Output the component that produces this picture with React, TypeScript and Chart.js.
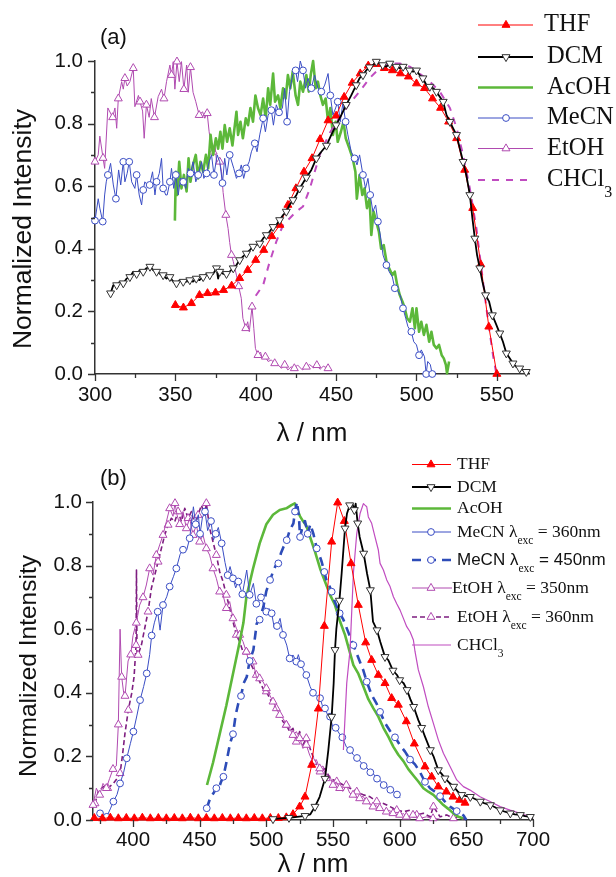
import React, { useEffect, useRef } from 'react';
import { Chart, registerables } from 'chart.js';

Chart.register(...registerables);

type Pt = [number, number];

// ================= Panel (a): absorption (wavelength nm, normalized intensity) =================
const thfA: Pt[] = [
  [350, 0.22], [355, 0.212], [360, 0.226], [365, 0.252], [370, 0.258], [375, 0.26], [380, 0.268],
  [385, 0.282], [390, 0.306], [395, 0.332], [400, 0.364], [405, 0.396], [410, 0.44], [415, 0.476],
  [420, 0.54], [425, 0.593], [430, 0.646], [435, 0.689], [440, 0.75], [445, 0.81], [450, 0.825],
  [455, 0.885], [460, 0.93], [465, 0.96], [470, 0.985], [475, 0.99], [480, 0.977], [485, 0.97],
  [490, 0.96], [495, 0.95], [500, 0.928], [505, 0.913], [510, 0.88], [515, 0.85], [520, 0.806],
  [525, 0.753], [530, 0.652], [535, 0.53], [540, 0.35], [545, 0.151], [550, 0.0],
];

const dcmA: Pt[] = [
  [309.7, 0.258], [311.4, 0.284], [313.5, 0.284], [315.5, 0.295], [317.6, 0.29], [319.7, 0.305],
  [321.7, 0.31], [323.8, 0.327], [325.9, 0.32], [328, 0.332], [330, 0.327], [332, 0.338], [334.2, 0.343],
  [336.2, 0.332], [338.3, 0.327], [340.4, 0.32], [342.4, 0.316], [344.5, 0.305], [346.6, 0.31],
  [348.7, 0.295], [350.7, 0.29], [352.8, 0.3], [354.9, 0.295], [357, 0.295], [359, 0.3], [361, 0.295],
  [363, 0.305], [365, 0.3], [367.3, 0.31], [369.4, 0.32], [371.4, 0.316], [373.5, 0.32], [375.6, 0.338],
  [376.6, 0.305], [377.6, 0.327], [379.7, 0.32], [381.8, 0.32], [383.8, 0.327], [386, 0.338], [388, 0.348],
  [390, 0.364], [392, 0.375], [394.2, 0.385], [396.3, 0.396], [398.3, 0.407], [400.4, 0.412], [402.5, 0.417],
  [404.6, 0.433], [406.6, 0.444], [408.7, 0.455], [410.8, 0.47], [412.8, 0.476], [414.9, 0.492], [417, 0.508],
  [419, 0.519], [421, 0.54], [423.2, 0.556], [425.3, 0.572], [427.3, 0.593], [429.4, 0.61], [431.5, 0.628],
  [434.6, 0.652], [437.7, 0.689], [440.8, 0.71], [444, 0.73], [447, 0.764], [450, 0.795], [453.2, 0.827],
  [456.3, 0.86], [459.4, 0.89], [462.5, 0.923], [464.6, 0.945], [466.7, 0.955], [468.7, 0.97], [470.8, 0.98],
  [472.9, 0.987], [475, 0.998], [477, 0.992], [479, 0.987], [481.3, 0.982], [483.4, 0.992], [485.5, 0.987],
  [487.5, 0.982], [489.6, 0.977], [491.7, 0.982], [493.7, 0.977], [495.8, 0.97], [497.9, 0.966], [500, 0.97],
  [502, 0.955], [504, 0.945], [506.2, 0.923], [508.3, 0.918], [510.4, 0.913], [512.4, 0.902], [514.5, 0.886],
  [516.6, 0.87], [518.7, 0.827], [520.8, 0.806], [522.8, 0.785], [524.9, 0.764], [527, 0.72], [529, 0.678],
  [531, 0.636], [533.2, 0.572], [534.8, 0.497], [536.3, 0.433], [537.7, 0.38], [539.4, 0.338], [541, 0.295],
  [543, 0.252], [545.2, 0.231], [547.2, 0.188], [549.7, 0.157], [551.8, 0.13], [553.8, 0.103], [555.9, 0.066],
  [558, 0.05], [560, 0.034], [562, 0.023], [564.2, 0.018], [566.2, 0.013], [568.3, 0.007], [570, 0.002],
];

const acohA: Pt[] = [
  [349.7, 0.49], [350.3, 0.646], [351.1, 0.572], [352.4, 0.678], [353.8, 0.593], [355.3, 0.636], [357, 0.583],
  [358.2, 0.689], [359.4, 0.614], [361, 0.668], [362.7, 0.7], [364.2, 0.625], [365.6, 0.678], [367.3, 0.646],
  [369, 0.7], [370.4, 0.657], [371.9, 0.764], [373.5, 0.7], [375.2, 0.753], [376.6, 0.72], [378, 0.774],
  [379.3, 0.72], [380.7, 0.795], [382.2, 0.742], [383.8, 0.785], [385.5, 0.73], [387, 0.795], [388, 0.838],
  [389, 0.764], [390.5, 0.806], [392, 0.753], [393.8, 0.817], [395.2, 0.795], [396.7, 0.85], [398.3, 0.806],
  [399.8, 0.89], [401.4, 0.85], [403, 0.827], [404.6, 0.88], [406.2, 0.817], [407.7, 0.913], [409, 0.86],
  [410.8, 0.96], [412, 0.87], [413.9, 0.89], [415.3, 0.85], [417, 0.913], [418.6, 0.88], [420, 0.955],
  [421.5, 0.913], [423, 0.966], [424.8, 0.89], [426.3, 0.86], [427.7, 0.934], [429.4, 0.902], [431.5, 0.955],
  [433, 0.902], [434.2, 0.955], [435.7, 1.0], [437.3, 0.913], [438.7, 0.934], [440.2, 0.89], [441.8, 0.86],
  [443.5, 0.88], [445, 0.806], [446.4, 0.85], [448, 0.764], [449.7, 0.806], [451, 0.742], [453, 0.774],
  [454.6, 0.806], [456, 0.753], [458.3, 0.72], [460.3, 0.689], [462, 0.646], [462.9, 0.56], [464.6, 0.636],
  [466.3, 0.572], [467.7, 0.593], [469.2, 0.53], [470.8, 0.56], [471.9, 0.444], [473.3, 0.519], [475, 0.487],
  [476.6, 0.455], [478, 0.4], [479.6, 0.412], [481.3, 0.36], [483, 0.338], [485, 0.316], [486.5, 0.327],
  [488, 0.284], [489.6, 0.252], [491.3, 0.231], [492.7, 0.21], [494.2, 0.178], [495.9, 0.167], [497.5, 0.21],
  [499, 0.146], [500, 0.21], [501.6, 0.135], [503, 0.167], [504.6, 0.125], [506.2, 0.157], [507.9, 0.103],
  [509.3, 0.135], [510.8, 0.093], [512.5, 0.082], [514, 0.093], [515.7, 0.06], [517, 0.05], [518.3, 0.029],
  [519, 0.002], [520.3, 0.04],
];

const mecnA: Pt[] = [
  [300, 0.49], [302, 0.56], [303, 0.53], [304.8, 0.487], [306, 0.572], [307, 0.614], [308, 0.636], [309.7, 0.673],
  [311.4, 0.604], [313, 0.56], [314.7, 0.652], [316, 0.604], [317.6, 0.678], [318.6, 0.614], [320, 0.641],
  [321.3, 0.678], [322.8, 0.614], [324.8, 0.593], [325.9, 0.636], [327.5, 0.572], [329, 0.54], [330, 0.588],
  [331, 0.614], [332.5, 0.604], [334, 0.604], [335.8, 0.646], [337.3, 0.572], [338.3, 0.614], [340, 0.641],
  [341.4, 0.689], [342.4, 0.593], [344, 0.572], [344.9, 0.572], [346.6, 0.614], [347.6, 0.657], [349, 0.593],
  [350.3, 0.636], [351.8, 0.572], [353.2, 0.625], [354.9, 0.614], [356.5, 0.593], [358, 0.657], [359.4, 0.641],
  [361, 0.678], [362.7, 0.614], [364.2, 0.636], [366.3, 0.678], [367.7, 0.625], [369.4, 0.641], [371, 0.678],
  [372.5, 0.7], [374, 0.636], [376, 0.7], [377.6, 0.678], [379.3, 0.61], [380.7, 0.689], [382, 0.636],
  [383.8, 0.7], [386.3, 0.657], [388, 0.625], [389.6, 0.641], [391, 0.668], [392.5, 0.625], [394, 0.657],
  [395.9, 0.678], [397.3, 0.71], [399.4, 0.737], [400.8, 0.71], [402.5, 0.764], [404.6, 0.817], [406, 0.774],
  [407.7, 0.827], [409.7, 0.843], [411, 0.795], [412.8, 0.86], [414.5, 0.836], [416.6, 0.85], [418, 0.913],
  [419.5, 0.806], [421, 0.902], [423, 0.955], [424.8, 0.97], [426, 0.934], [427.7, 1.0], [429.4, 0.97],
  [431, 0.913], [432.5, 0.945], [434.6, 0.913], [436.6, 0.955], [438.7, 0.913], [440.8, 0.902], [442.9, 0.923],
  [445, 0.96], [446.4, 0.89], [448, 0.827], [449.7, 0.85], [451, 0.87], [452.6, 0.806], [454.2, 0.865],
  [455.9, 0.806], [457.3, 0.764], [459.4, 0.71], [461.5, 0.689], [463, 0.668], [464.6, 0.7], [466.7, 0.636],
  [468.3, 0.593], [469.8, 0.625], [471.2, 0.572], [472.9, 0.519], [474.6, 0.54], [476, 0.487], [477.5, 0.444],
  [479.2, 0.38], [481.3, 0.348], [483, 0.327], [485, 0.31], [486.5, 0.274], [488.6, 0.263], [490, 0.25],
  [491.6, 0.21], [493.3, 0.178], [494.7, 0.151], [496.8, 0.135], [498.3, 0.103], [500, 0.093], [501.6, 0.06],
  [503, 0.077], [505, 0.055], [506, 0.0], [507, 0.04], [508.6, 0.03], [509.8, 0.0],
];

const etohA: Pt[] = [
  [300, 0.678], [302, 0.7], [303, 0.76], [305, 0.69], [306, 0.657], [308, 0.85], [311, 0.82], [312.4, 0.85],
  [313.5, 0.785], [314.5, 0.88], [316.6, 0.934], [317.6, 0.91], [318.6, 0.945], [320, 0.92], [321.7, 0.934],
  [323.8, 0.977], [324.8, 0.854], [327, 0.89], [328, 0.87], [329.6, 0.84], [330.6, 0.753], [332, 0.86],
  [333.7, 0.82], [335, 0.88], [337, 0.82], [339.3, 0.886], [341.4, 0.91], [342.9, 0.88], [344.5, 0.934],
  [346.6, 0.987], [347.6, 0.955], [348.7, 0.998], [349.7, 0.91], [351, 0.998], [352.4, 0.934], [353.8, 0.998],
  [355.3, 0.91], [357, 0.987], [358, 0.9], [359.4, 0.98], [361, 0.9], [362.7, 0.87], [364.8, 0.827],
  [366.9, 0.838], [368.3, 0.817], [369.8, 0.833], [371, 0.774], [372.5, 0.72], [373.5, 0.71], [374.5, 0.742],
  [375.6, 0.678], [377.6, 0.678], [378.7, 0.646], [379.7, 0.58], [381.4, 0.508], [382.8, 0.465], [383.8, 0.42],
  [384.9, 0.38], [386, 0.36], [388, 0.316], [389.4, 0.28], [391, 0.242], [392, 0.178], [393.8, 0.146],
  [395, 0.167], [396, 0.135], [397.7, 0.215], [398.8, 0.146], [399.8, 0.082], [401.4, 0.06], [403, 0.07],
  [404, 0.05], [406, 0.055], [407.7, 0.04], [409.7, 0.045], [411.8, 0.034], [413.9, 0.029], [416, 0.018],
  [418, 0.029], [420, 0.013], [422, 0.023], [424, 0.018], [426, 0.029], [429, 0.013], [431.5, 0.023],
  [433.5, 0.03], [436, 0.02], [438, 0.028], [440, 0.015], [442, 0.025], [445, 0.018],
];

const chcl3A: Pt[] = [
  [400, 0.25], [404.6, 0.284], [408.7, 0.359], [412.8, 0.423], [417, 0.476], [421, 0.497], [425.3, 0.519],
  [429.4, 0.535], [433.5, 0.59], [439.8, 0.7], [446, 0.77], [452.2, 0.82], [458.5, 0.865], [464.6, 0.902],
  [470.8, 0.945], [477, 0.977], [483.4, 0.992], [489.6, 0.992], [495.8, 0.982], [502, 0.96], [508.3, 0.934],
  [514.5, 0.902], [520.8, 0.85], [525, 0.785], [529, 0.7], [533.2, 0.593], [537.3, 0.465], [541.4, 0.295],
  [544.6, 0.167], [547.6, 0.06], [549.7, 0.0],
];

// ================= Panel (b): emission =================
const thfB: Pt[] = [
  [371, 0.006], [377, 0.005], [383, 0.007], [389, 0.005], [395, 0.006], [401, 0.005], [407, 0.007], [413, 0.005],
  [419, 0.006], [425, 0.005], [431, 0.006], [437, 0.005], [443, 0.007], [449, 0.005], [455, 0.006], [461, 0.005],
  [467, 0.006], [473, 0.005], [479, 0.006], [485, 0.005], [491, 0.006], [497, 0.005], [503, 0.006], [509, 0.006],
  [515, 0.008], [520, 0.018], [525, 0.042], [529, 0.073], [534, 0.173], [539, 0.35], [543.5, 0.61], [549, 0.875],
  [553.5, 0.998], [558.5, 0.94], [563.5, 0.807], [569, 0.676], [574.5, 0.558], [579, 0.503], [584, 0.456],
  [589, 0.43], [594, 0.383], [599, 0.362], [605, 0.31], [611, 0.24], [619, 0.168], [624, 0.136], [629, 0.105],
  [635, 0.089], [640, 0.073], [645, 0.063], [649, 0.054],
];

const dcmB: Pt[] = [
  [505, 0.003], [511, 0.005], [517, 0.007], [523, 0.01], [529, 0.013], [533, 0.018], [536.5, 0.042],
  [540, 0.073], [544, 0.13], [546.5, 0.22], [549, 0.325], [550.5, 0.43], [551.5, 0.535], [552.5, 0.6],
  [554.8, 0.69], [556.5, 0.776], [559, 0.917], [560.5, 0.964], [562.5, 0.99], [564.5, 0.995], [566, 0.975],
  [567, 0.995], [568.5, 0.933], [570, 0.89], [573, 0.838], [575.5, 0.776], [578, 0.723], [580, 0.624],
  [583, 0.597], [585.5, 0.56], [589, 0.513], [591.5, 0.503], [595, 0.47], [598, 0.456], [600, 0.44],
  [603, 0.43], [605.5, 0.409], [608, 0.38], [610.5, 0.356], [614, 0.314], [616.5, 0.29], [619, 0.262],
  [623, 0.22], [625.5, 0.199], [629, 0.157], [631.5, 0.145], [634, 0.131], [637, 0.118], [640.5, 0.105],
  [643.5, 0.09], [646.5, 0.079], [650, 0.075], [653, 0.073], [656.5, 0.066], [660.5, 0.058], [664, 0.052],
  [668, 0.047], [671.5, 0.04], [675.5, 0.031], [679, 0.026], [683, 0.021], [686.5, 0.018], [690.5, 0.016],
  [694, 0.012], [698, 0.01], [700, 0.005],
];

const acohB: Pt[] = [
  [455.5, 0.11], [460, 0.18], [465, 0.27], [470, 0.36], [475, 0.46], [480, 0.56], [482.8, 0.62], [485, 0.7],
  [490, 0.79], [495, 0.87], [500, 0.93], [505, 0.96], [510, 0.975], [515, 0.98], [518.8, 0.99], [521.3, 0.996],
  [523.3, 0.975], [525.3, 0.955], [527.5, 0.94], [530, 0.925], [532.8, 0.89], [536.5, 0.844], [540.3, 0.791],
  [544, 0.75], [547.8, 0.708], [551.5, 0.676], [555.3, 0.624], [559, 0.582], [562.8, 0.525], [565.3, 0.487],
  [569, 0.46], [572.8, 0.42], [576.5, 0.38], [580.3, 0.351], [584, 0.325], [587.8, 0.29], [591.5, 0.262],
  [595.3, 0.23], [599, 0.205], [602.8, 0.185], [606.5, 0.16], [610.3, 0.14], [614, 0.121], [617.8, 0.1],
  [621.5, 0.089], [625.3, 0.079], [629, 0.063], [632.8, 0.047], [636.5, 0.035], [640.3, 0.021], [644, 0.01],
  [647.8, 0.005],
];

const mecn360B: Pt[] = [
  [375.3, 0.021], [378, 0.015], [380.3, 0.01], [383, 0.035], [385.3, 0.058], [388, 0.08], [390.3, 0.115],
  [393, 0.15], [395.3, 0.194], [398, 0.24], [400.3, 0.278], [403, 0.33], [405.3, 0.377], [408, 0.42],
  [410.3, 0.461], [412.5, 0.52], [414, 0.58], [416, 0.62], [418.5, 0.655], [420.3, 0.597], [422.5, 0.676],
  [425.3, 0.702], [427.5, 0.734], [430.3, 0.765], [432.5, 0.791], [435.3, 0.835], [437.5, 0.85], [440.3, 0.849],
  [442.5, 0.886], [445.3, 0.985], [447, 0.93], [449, 0.96], [450.3, 0.9], [452, 0.95], [454, 0.97], [456, 0.91],
  [458.5, 0.94], [460.3, 0.88], [462, 0.9], [464, 0.92], [466.5, 0.87], [469, 0.81], [471, 0.77], [472.8, 0.797],
  [475, 0.76], [477, 0.73], [479, 0.75], [480.3, 0.733], [482, 0.71], [485.3, 0.786], [487.5, 0.708],
  [490.3, 0.744], [492.5, 0.68], [494, 0.692], [496, 0.7], [497.8, 0.681], [500, 0.655], [502, 0.665],
  [504, 0.65], [506, 0.603], [508, 0.61], [510.3, 0.634], [512.5, 0.582], [515.3, 0.55], [517.5, 0.508],
  [520, 0.519], [522.5, 0.498], [524, 0.52], [526, 0.49], [528, 0.47], [530, 0.456], [532.8, 0.42], [535, 0.4],
  [537.8, 0.39], [540.3, 0.383], [542, 0.36], [544, 0.351], [546, 0.33], [547.8, 0.325], [550, 0.29],
  [552, 0.29], [555, 0.27], [557, 0.26], [560, 0.23], [562.8, 0.22], [565.3, 0.205], [568, 0.195],
  [570.3, 0.185], [573, 0.17], [575.3, 0.165], [578, 0.15], [580.3, 0.145], [583, 0.13], [585.3, 0.125],
  [588, 0.11], [590.3, 0.105], [593, 0.095], [595.3, 0.09], [598, 0.08], [600.3, 0.07],
];

const mecn450B: Pt[] = [
  [455.3, 0.037], [458, 0.07], [460.3, 0.084], [462.5, 0.1], [464, 0.095], [466, 0.12], [467.8, 0.136],
  [470, 0.18], [472.8, 0.241], [475, 0.27], [477, 0.33], [479, 0.367], [481, 0.39], [483, 0.43], [485.3, 0.45],
  [487.5, 0.5], [490.3, 0.535], [492.8, 0.618], [495, 0.63], [497.8, 0.671], [500, 0.72], [502.8, 0.755],
  [505, 0.78], [507, 0.8], [509, 0.807], [511, 0.84], [513, 0.86], [515.3, 0.88], [517.5, 0.91], [520.3, 0.933],
  [521.5, 0.97], [523, 1.0], [524.5, 0.95], [525.3, 0.89], [527, 0.92], [529, 0.94], [531, 0.9], [533, 0.93],
  [535.3, 0.9], [537.8, 0.854], [540, 0.83], [541.5, 0.812], [543.5, 0.78], [545.3, 0.75], [547, 0.74],
  [549, 0.718], [551, 0.69], [553, 0.67], [555, 0.65], [557.8, 0.63], [561.5, 0.59], [565.3, 0.55], [569, 0.51],
  [572.8, 0.47], [575.3, 0.435], [579, 0.393], [582.8, 0.365], [585.3, 0.34], [589, 0.305], [592.8, 0.28],
  [596.5, 0.26], [600.3, 0.235], [604, 0.215], [607.8, 0.19], [611.5, 0.175], [615.3, 0.15], [619, 0.12],
  [622.8, 0.1], [626.5, 0.089], [630.3, 0.075], [634, 0.058], [637.8, 0.042], [642.8, 0.028], [647.8, 0.015],
  [650, 0.0],
];

const etoh350B: Pt[] = [
  [370, 0.047], [372.5, 0.1], [375, 0.079], [377.5, 0.115], [380, 0.1], [382.5, 0.131], [385, 0.16],
  [387.5, 0.17], [389, 0.3], [390.3, 0.6], [391.5, 0.45], [393, 0.4], [394, 0.39], [396.3, 0.5], [398.3, 0.52],
  [400, 0.58], [402.5, 0.62], [405, 0.676], [407.5, 0.7], [410, 0.739], [412.5, 0.791], [415, 0.77],
  [417.5, 0.833], [420, 0.865], [422.5, 0.896], [425, 0.938], [427.5, 0.98], [430, 0.955], [431.5, 0.996],
  [433, 0.96], [435, 0.93], [437.5, 0.97], [440, 0.917], [442.5, 0.949], [445, 0.896], [447.5, 0.928],
  [450, 0.875], [452.5, 0.896], [455, 0.854], [457.5, 0.833], [460, 0.791], [462.5, 0.76], [465, 0.718],
  [467.5, 0.708], [470, 0.666], [472.5, 0.687], [475, 0.634], [477.5, 0.603], [480, 0.582], [482.5, 0.561],
  [485, 0.529], [487.5, 0.487], [490, 0.498], [492.5, 0.451], [495, 0.445], [497.5, 0.435], [500, 0.414],
  [502.5, 0.393], [505, 0.372], [507.5, 0.351], [510, 0.33], [512.5, 0.32], [515, 0.299], [517.5, 0.288],
  [520, 0.267], [522.5, 0.278], [525, 0.257], [527.5, 0.225], [530, 0.236], [532.5, 0.204], [535, 0.183],
  [537.5, 0.19], [540, 0.162], [542.5, 0.17], [545, 0.131], [547.5, 0.14], [550, 0.11], [552.5, 0.12],
  [555, 0.1], [557.5, 0.09], [560, 0.11], [562.5, 0.085], [565, 0.079], [567.5, 0.07], [570, 0.068],
  [572.5, 0.075], [575, 0.058], [577.5, 0.05], [580, 0.042], [582.5, 0.045], [585, 0.037], [587.5, 0.03],
  [590, 0.026], [592.5, 0.03], [595, 0.021], [597.5, 0.018], [600, 0.016], [603, 0.02], [605, 0.01],
  [608, 0.012], [610, 0.016], [613, 0.008], [615, 0.005], [620, 0.01], [625, 0.005], [630, 0.003],
];

const etoh360B: Pt[] = [
  [371.5, 0.052], [374, 0.09], [377.8, 0.105], [381, 0.1], [385.3, 0.115], [388, 0.13], [390.3, 0.147],
  [392, 0.2], [394, 0.273], [396.5, 0.346], [399, 0.398], [400.8, 0.45], [402.3, 0.55], [402.6, 0.786],
  [403, 0.52], [403.8, 0.519], [406.3, 0.55], [408.8, 0.603], [411.3, 0.655], [413.8, 0.729], [416.3, 0.77],
  [418.8, 0.812], [421.3, 0.854], [423.8, 0.896], [426.3, 0.928], [428.8, 0.949], [431.3, 0.938],
  [433.8, 0.97], [436.3, 0.938], [438.8, 0.98], [441.3, 0.949], [443.8, 0.97], [446.3, 0.928], [448.8, 0.959],
  [451.3, 0.99], [453.8, 0.959], [455, 0.996], [457.5, 0.917], [460, 0.875], [462.5, 0.833], [465, 0.781],
  [467.5, 0.75], [470, 0.708], [472.5, 0.666], [475, 0.624], [477.5, 0.582], [480, 0.561], [482.5, 0.529],
  [485, 0.529], [487.5, 0.498], [490, 0.477], [492.5, 0.456], [495, 0.435], [497.5, 0.414], [500, 0.404],
  [502.5, 0.383], [505, 0.362], [507.5, 0.351], [510, 0.33], [512.5, 0.309], [515, 0.299], [517.5, 0.278],
  [520, 0.288], [522.5, 0.246], [525, 0.278], [527.5, 0.236], [530, 0.257], [532.8, 0.225], [536.5, 0.183],
  [540.3, 0.152], [544, 0.162], [547.8, 0.131], [552.8, 0.121], [557.8, 0.11], [562.8, 0.1], [567.8, 0.089],
  [572.8, 0.079], [577.8, 0.073], [582.8, 0.058], [587.8, 0.052], [592.8, 0.042], [597.8, 0.031],
  [602.8, 0.026], [607.8, 0.031], [612.8, 0.016], [617.8, 0.021], [622.8, 0.01], [625.3, 0.042], [630.3, 0.01],
  [635.3, 0.016], [640.3, 0.005], [645.3, 0.01], [649, 0.0],
];

const chcl3B: Pt[] = [
  [557.8, 0.22], [560.3, 0.43], [562.8, 0.535], [565.3, 0.776], [567.8, 0.9], [570.3, 0.964], [572.8, 0.995],
  [574, 0.99], [575.3, 0.985], [576.5, 0.953], [579, 0.933], [581.5, 0.89], [584, 0.849], [585.3, 0.807],
  [587.8, 0.786], [590.3, 0.755], [592.8, 0.734], [595.3, 0.702], [597.8, 0.68], [600.3, 0.66], [602.8, 0.634],
  [605.3, 0.608], [607.8, 0.592], [610.3, 0.566], [611.5, 0.53], [614, 0.472], [617.8, 0.419], [621.5, 0.356],
  [625.3, 0.304], [629, 0.252], [632.8, 0.21], [637.8, 0.168], [642.8, 0.126], [647.8, 0.105], [652.8, 0.094],
  [660.3, 0.073], [667.8, 0.058], [675.3, 0.042], [682.8, 0.031], [690.3, 0.021], [697.8, 0.01], [700, 0.005],
];

// ================= Axis ticks =================
const xMajorA = [300, 350, 400, 450, 500, 550];
const xMinorA = [325, 375, 425, 475, 525];
const xMajorB = [400, 450, 500, 550, 600, 650, 700];
const xMinorB = [375, 425, 475, 525, 575, 625, 675];
const yMajor = [0, 0.2, 0.4, 0.6, 0.8, 1.0];
const yMinor = [0.1, 0.3, 0.5, 0.7, 0.9];

const SANS = '"Liberation Sans", Arial, sans-serif';
const SERIF = '"Liberation Serif", "Times New Roman", serif';

const COL = {
  thf: '#FF0000',
  dcm: '#000000',
  acoh: '#5CB83A',
  mecn: '#3A4DC4',
  mecn450: '#2D4CB8',
  etoh: '#B04AB0',
  etoh360: '#7E1E80',
  chcl3: '#C04CC0',
};

type Marker = 'circle' | 'triangle' | 'triangleDown' | null;

interface SeriesStyle {
  color: string;
  width: number;
  dash?: number[];
  marker?: Marker;
  every?: number;
  r?: number;
  fill?: string;
  mstroke?: string;
}

function lineDs(label: string, pts: Pt[], s: SeriesStyle) {
  const every = s.every || 1;
  const r = s.r || 4;
  return {
    label,
    data: pts.map(([x, y]) => ({ x, y })),
    borderColor: s.color,
    borderWidth: s.width,
    borderDash: s.dash || [],
    borderJoinStyle: 'round' as const,
    fill: false,
    tension: 0,
    clip: false as const,
    pointStyle: s.marker === 'circle' ? 'circle' : 'triangle',
    pointRotation: s.marker === 'triangleDown' ? 180 : 0,
    pointRadius: (c: any) => (s.marker && c.index % every === 0 ? r : 0),
    pointHoverRadius: 0,
    pointBorderWidth: 1,
    pointBorderColor: s.mstroke || s.color,
    pointBackgroundColor: s.fill || '#FFFFFF',
  };
}

function drawMarker(ctx: CanvasRenderingContext2D, m: Marker, x: number, y: number, r: number, stroke: string, fill: string) {
  if (!m) return;
  ctx.save();
  ctx.setLineDash([]);
  ctx.lineWidth = 1;
  ctx.strokeStyle = stroke;
  ctx.fillStyle = fill;
  ctx.beginPath();
  if (m === 'circle') {
    ctx.arc(x, y, r, 0, Math.PI * 2);
  } else {
    const rot = m === 'triangleDown' ? Math.PI : 0;
    for (let i = 0; i < 3; i++) {
      const a = rot + (i * 2 * Math.PI) / 3;
      const px = x + Math.sin(a) * r;
      const py = y - Math.cos(a) * r;
      if (i === 0) ctx.moveTo(px, py);
      else ctx.lineTo(px, py);
    }
    ctx.closePath();
  }
  ctx.fill();
  ctx.stroke();
  ctx.restore();
}

interface Part { t: string; sub?: boolean }

interface LegendItem {
  parts: Part[];
  y: number;
  style: SeriesStyle;
  font?: string;
  tx?: number;
  x1?: number;
}

interface Decor {
  panel: { text: string; x: number; y: number; font: string };
  xTitle: { text: string; x: number; y: number; font: string };
  yTitle: { text: string; x: number; y: number; font: string };
  xMajor: number[];
  xMinor: number[];
  legend: {
    items: LegendItem[];
    x0: number;
    x1: number;
    mx: number;
    tx: number;
    font: string;
    subFont: string;
    subDy: number;
  };
}

function makeDecor(d: Decor) {
  return {
    id: 'decor',
    afterDraw(chart: any) {
      const ctx: CanvasRenderingContext2D = chart.ctx;
      const xs = chart.scales.x;
      const ys = chart.scales.y;
      const { left, bottom } = chart.chartArea;
      ctx.save();
      // tick marks
      ctx.strokeStyle = '#333';
      ctx.lineWidth = 1.3;
      ctx.beginPath();
      d.xMajor.forEach((v) => {
        const p = Math.round(xs.getPixelForValue(v)) + 0.5;
        ctx.moveTo(p, bottom); ctx.lineTo(p, bottom + 7);
      });
      d.xMinor.forEach((v) => {
        const p = Math.round(xs.getPixelForValue(v)) + 0.5;
        ctx.moveTo(p, bottom); ctx.lineTo(p, bottom + 4);
      });
      yMajor.forEach((v) => {
        const p = Math.round(ys.getPixelForValue(v)) + 0.5;
        ctx.moveTo(left, p); ctx.lineTo(left - 7, p);
      });
      yMinor.forEach((v) => {
        const p = Math.round(ys.getPixelForValue(v)) + 0.5;
        ctx.moveTo(left, p); ctx.lineTo(left - 4, p);
      });
      ctx.stroke();

      // texts
      ctx.fillStyle = '#111';
      ctx.textBaseline = 'middle';
      ctx.textAlign = 'left';
      ctx.font = d.panel.font;
      ctx.fillText(d.panel.text, d.panel.x, d.panel.y);
      ctx.textAlign = 'center';
      ctx.font = d.xTitle.font;
      ctx.fillText(d.xTitle.text, d.xTitle.x, d.xTitle.y);
      ctx.save();
      ctx.translate(d.yTitle.x, d.yTitle.y);
      ctx.rotate(-Math.PI / 2);
      ctx.font = d.yTitle.font;
      ctx.fillText(d.yTitle.text, 0, 0);
      ctx.restore();

      // legend
      const L = d.legend;
      L.items.forEach((it) => {
        const s = it.style;
        ctx.save();
        ctx.strokeStyle = s.color;
        ctx.lineWidth = s.width;
        ctx.setLineDash(s.dash || []);
        ctx.beginPath();
        ctx.moveTo(L.x0, it.y);
        ctx.lineTo(it.x1 || L.x1, it.y);
        ctx.stroke();
        ctx.restore();
        drawMarker(ctx, s.marker || null, L.mx, it.y, s.r || 4, s.mstroke || s.color, s.fill || '#FFFFFF');
        let cx = it.tx || L.tx;
        ctx.textAlign = 'left';
        ctx.fillStyle = '#111';
        it.parts.forEach((p) => {
          ctx.font = p.sub ? L.subFont : (it.font || L.font);
          ctx.fillText(p.t, cx, p.sub ? it.y + L.subDy : it.y);
          cx += ctx.measureText(p.t).width;
        });
      });
      ctx.restore();
    },
  };
}

// styles
const sTHF: SeriesStyle = { color: COL.thf, width: 1, marker: 'triangle', r: 4.6, fill: COL.thf };
const sDCM: SeriesStyle = { color: COL.dcm, width: 1.8, marker: 'triangleDown', r: 4.6, fill: '#FFFFFF', mstroke: '#333' };
const sAcOH: SeriesStyle = { color: COL.acoh, width: 2.6 };
const sMeCN: SeriesStyle = { color: COL.mecn, width: 1, marker: 'circle', r: 3.4 };
const sEtOH: SeriesStyle = { color: COL.etoh, width: 1, marker: 'triangle', r: 4.6 };
const sCHCl3A: SeriesStyle = { color: COL.chcl3, width: 2, dash: [7, 7] };
const sMeCN450: SeriesStyle = { color: COL.mecn450, width: 2.6, dash: [9, 6], marker: 'circle', r: 3.4, mstroke: COL.mecn };
const sEtOH360: SeriesStyle = { color: COL.etoh360, width: 1.6, dash: [5, 3], marker: 'triangle', r: 4.6, mstroke: COL.etoh };
const sCHCl3B: SeriesStyle = { color: COL.chcl3, width: 1.2 };

function scales(xmin: number, xmax: number, xH: number, yW: number, xPad: number, yPad: number) {
  const tickFont = { family: SANS, size: 20.5 };
  return {
    x: {
      type: 'linear' as const,
      min: xmin,
      max: xmax,
      afterFit: (s: any) => { s.height = xH; },
      ticks: { stepSize: 50, includeBounds: false, padding: xPad, font: tickFont, color: '#111', maxRotation: 0, autoSkip: false },
      grid: { display: false, drawTicks: false },
      border: { display: true, color: '#333', width: 1.5 },
    },
    y: {
      type: 'linear' as const,
      min: 0,
      max: 1,
      afterFit: (s: any) => { s.width = yW; },
      ticks: { stepSize: 0.2, padding: yPad, font: tickFont, color: '#111', callback: (v: any) => Number(v).toFixed(1) },
      grid: { display: false, drawTicks: false },
      border: { display: true, color: '#333', width: 1.5 },
    },
  };
}

function buildA(): any {
  const decor = makeDecor({
    panel: { text: '(a)', x: 100, y: 37.5, font: `22px ${SANS}` },
    xTitle: { text: 'λ / nm', x: 312, y: 433.5, font: `26px ${SANS}` },
    yTitle: { text: 'Normalized Intensity', x: 24, y: 229, font: `26.5px ${SANS}` },
    xMajor: xMajorA,
    xMinor: xMinorA,
    legend: {
      x0: 478, x1: 533, mx: 506, tx: 547,
      font: `24.5px ${SERIF}`, subFont: `16px ${SERIF}`, subDy: 13,
      items: [
        { parts: [{ t: 'THF' }], y: 25, style: sTHF, tx: 544 },
        { parts: [{ t: 'DCM' }], y: 57, style: sDCM },
        { parts: [{ t: 'AcOH' }], y: 87.5, style: sAcOH },
        { parts: [{ t: 'MeCN' }], y: 118, style: sMeCN },
        { parts: [{ t: 'EtOH' }], y: 148.5, style: sEtOH },
        { parts: [{ t: 'CHCl' }, { t: '3', sub: true }], y: 180, style: sCHCl3A },
      ],
    },
  });
  return {
    type: 'line',
    data: {
      datasets: [
        lineDs('DCM', dcmA, { ...sDCM, every: 2 }),
        lineDs('THF', thfA, { ...sTHF, every: 1 }),
        lineDs('CHCl3', chcl3A, sCHCl3A),
        lineDs('MeCN', mecnA, { ...sMeCN, every: 3 }),
        lineDs('AcOH', acohA, sAcOH),
        lineDs('EtOH', etohA, { ...sEtOH, every: 3 }),
      ],
    },
    options: {
      responsive: false,
      animation: false,
      devicePixelRatio: 1,
      events: [],
      layout: { padding: { top: 61, right: 87, left: 0, bottom: 0 } },
      plugins: { legend: { display: false }, tooltip: { enabled: false } },
      scales: scales(300, 570, 74, 95, 9, 12),
    },
    plugins: [decor],
  };
}

function buildB(): any {
  const decor = makeDecor({
    panel: { text: '(b)', x: 100, y: 30.5, font: `22px ${SANS}` },
    xTitle: { text: 'λ / nm', x: 313, y: 417, font: `26px ${SANS}` },
    yTitle: { text: 'Normalized Intensity', x: 29, y: 218, font: `24.5px ${SANS}` },
    xMajor: xMajorB,
    xMinor: xMinorB,
    legend: {
      x0: 412, x1: 451, mx: 431, tx: 457,
      font: `17.5px ${SERIF}`, subFont: `11.5px ${SERIF}`, subDy: 8.5,
      items: [
        { parts: [{ t: 'THF' }], y: 16.5, style: sTHF },
        { parts: [{ t: 'DCM' }], y: 39, style: sDCM },
        { parts: [{ t: 'AcOH' }], y: 60.5, style: sAcOH },
        { parts: [{ t: 'MeCN λ' }, { t: 'exc', sub: true }, { t: ' = 360nm' }], y: 84, style: sMeCN },
        { parts: [{ t: 'MeCN λ' }, { t: 'exc', sub: true }, { t: ' = 450nm' }], y: 112, style: sMeCN450, font: `17px ${SANS}` },
        { parts: [{ t: 'EtOH λ' }, { t: 'exc', sub: true }, { t: ' = 350nm' }], y: 140, style: sEtOH, tx: 452, x1: 452 },
        { parts: [{ t: 'EtOH λ' }, { t: 'exc', sub: true }, { t: ' = 360nm' }], y: 169, style: sEtOH360 },
        { parts: [{ t: 'CHCl' }, { t: '3', sub: true }], y: 197, style: sCHCl3B },
      ],
    },
  });
  return {
    type: 'line',
    data: {
      datasets: [
        lineDs('DCM', dcmB, { ...sDCM, every: 2 }),
        lineDs('THF', thfB, { ...sTHF, every: 1 }),
        lineDs('CHCl3', chcl3B, sCHCl3B),
        lineDs('MeCN 360', mecn360B, { ...sMeCN, every: 2 }),
        lineDs('MeCN 450', mecn450B, { ...sMeCN450, every: 3 }),
        lineDs('AcOH', acohB, sAcOH),
        lineDs('EtOH 350', etoh350B, { ...sEtOH, every: 2 }),
        lineDs('EtOH 360', etoh360B, { ...sEtOH360, every: 3 }),
      ],
    },
    options: {
      responsive: false,
      animation: false,
      devicePixelRatio: 1,
      events: [],
      layout: { padding: { top: 54, right: 83, left: 0, bottom: 0 } },
      plugins: { legend: { display: false }, tooltip: { enabled: false } },
      scales: scales(370, 700, 65, 93, 8, 11),
    },
    plugins: [decor],
  };
}

export default function App() {
  const refA = useRef<HTMLCanvasElement>(null);
  const refB = useRef<HTMLCanvasElement>(null);
  useEffect(() => {
    const a = new Chart(refA.current as HTMLCanvasElement, buildA());
    const b = new Chart(refB.current as HTMLCanvasElement, buildB());
    return () => {
      a.destroy();
      b.destroy();
    };
  }, []);
  return (
    <div style={{ position: 'fixed', left: 0, top: 0, width: 616, height: 877, overflow: 'hidden', background: '#FFFFFF' }}>
      <canvas ref={refA} width={616} height={448} style={{ position: 'absolute', left: 0, top: 0, width: 616, height: 448 }} />
      <canvas ref={refB} width={616} height={437} style={{ position: 'absolute', left: 0, top: 448, width: 616, height: 437 }} />
    </div>
  );
}
